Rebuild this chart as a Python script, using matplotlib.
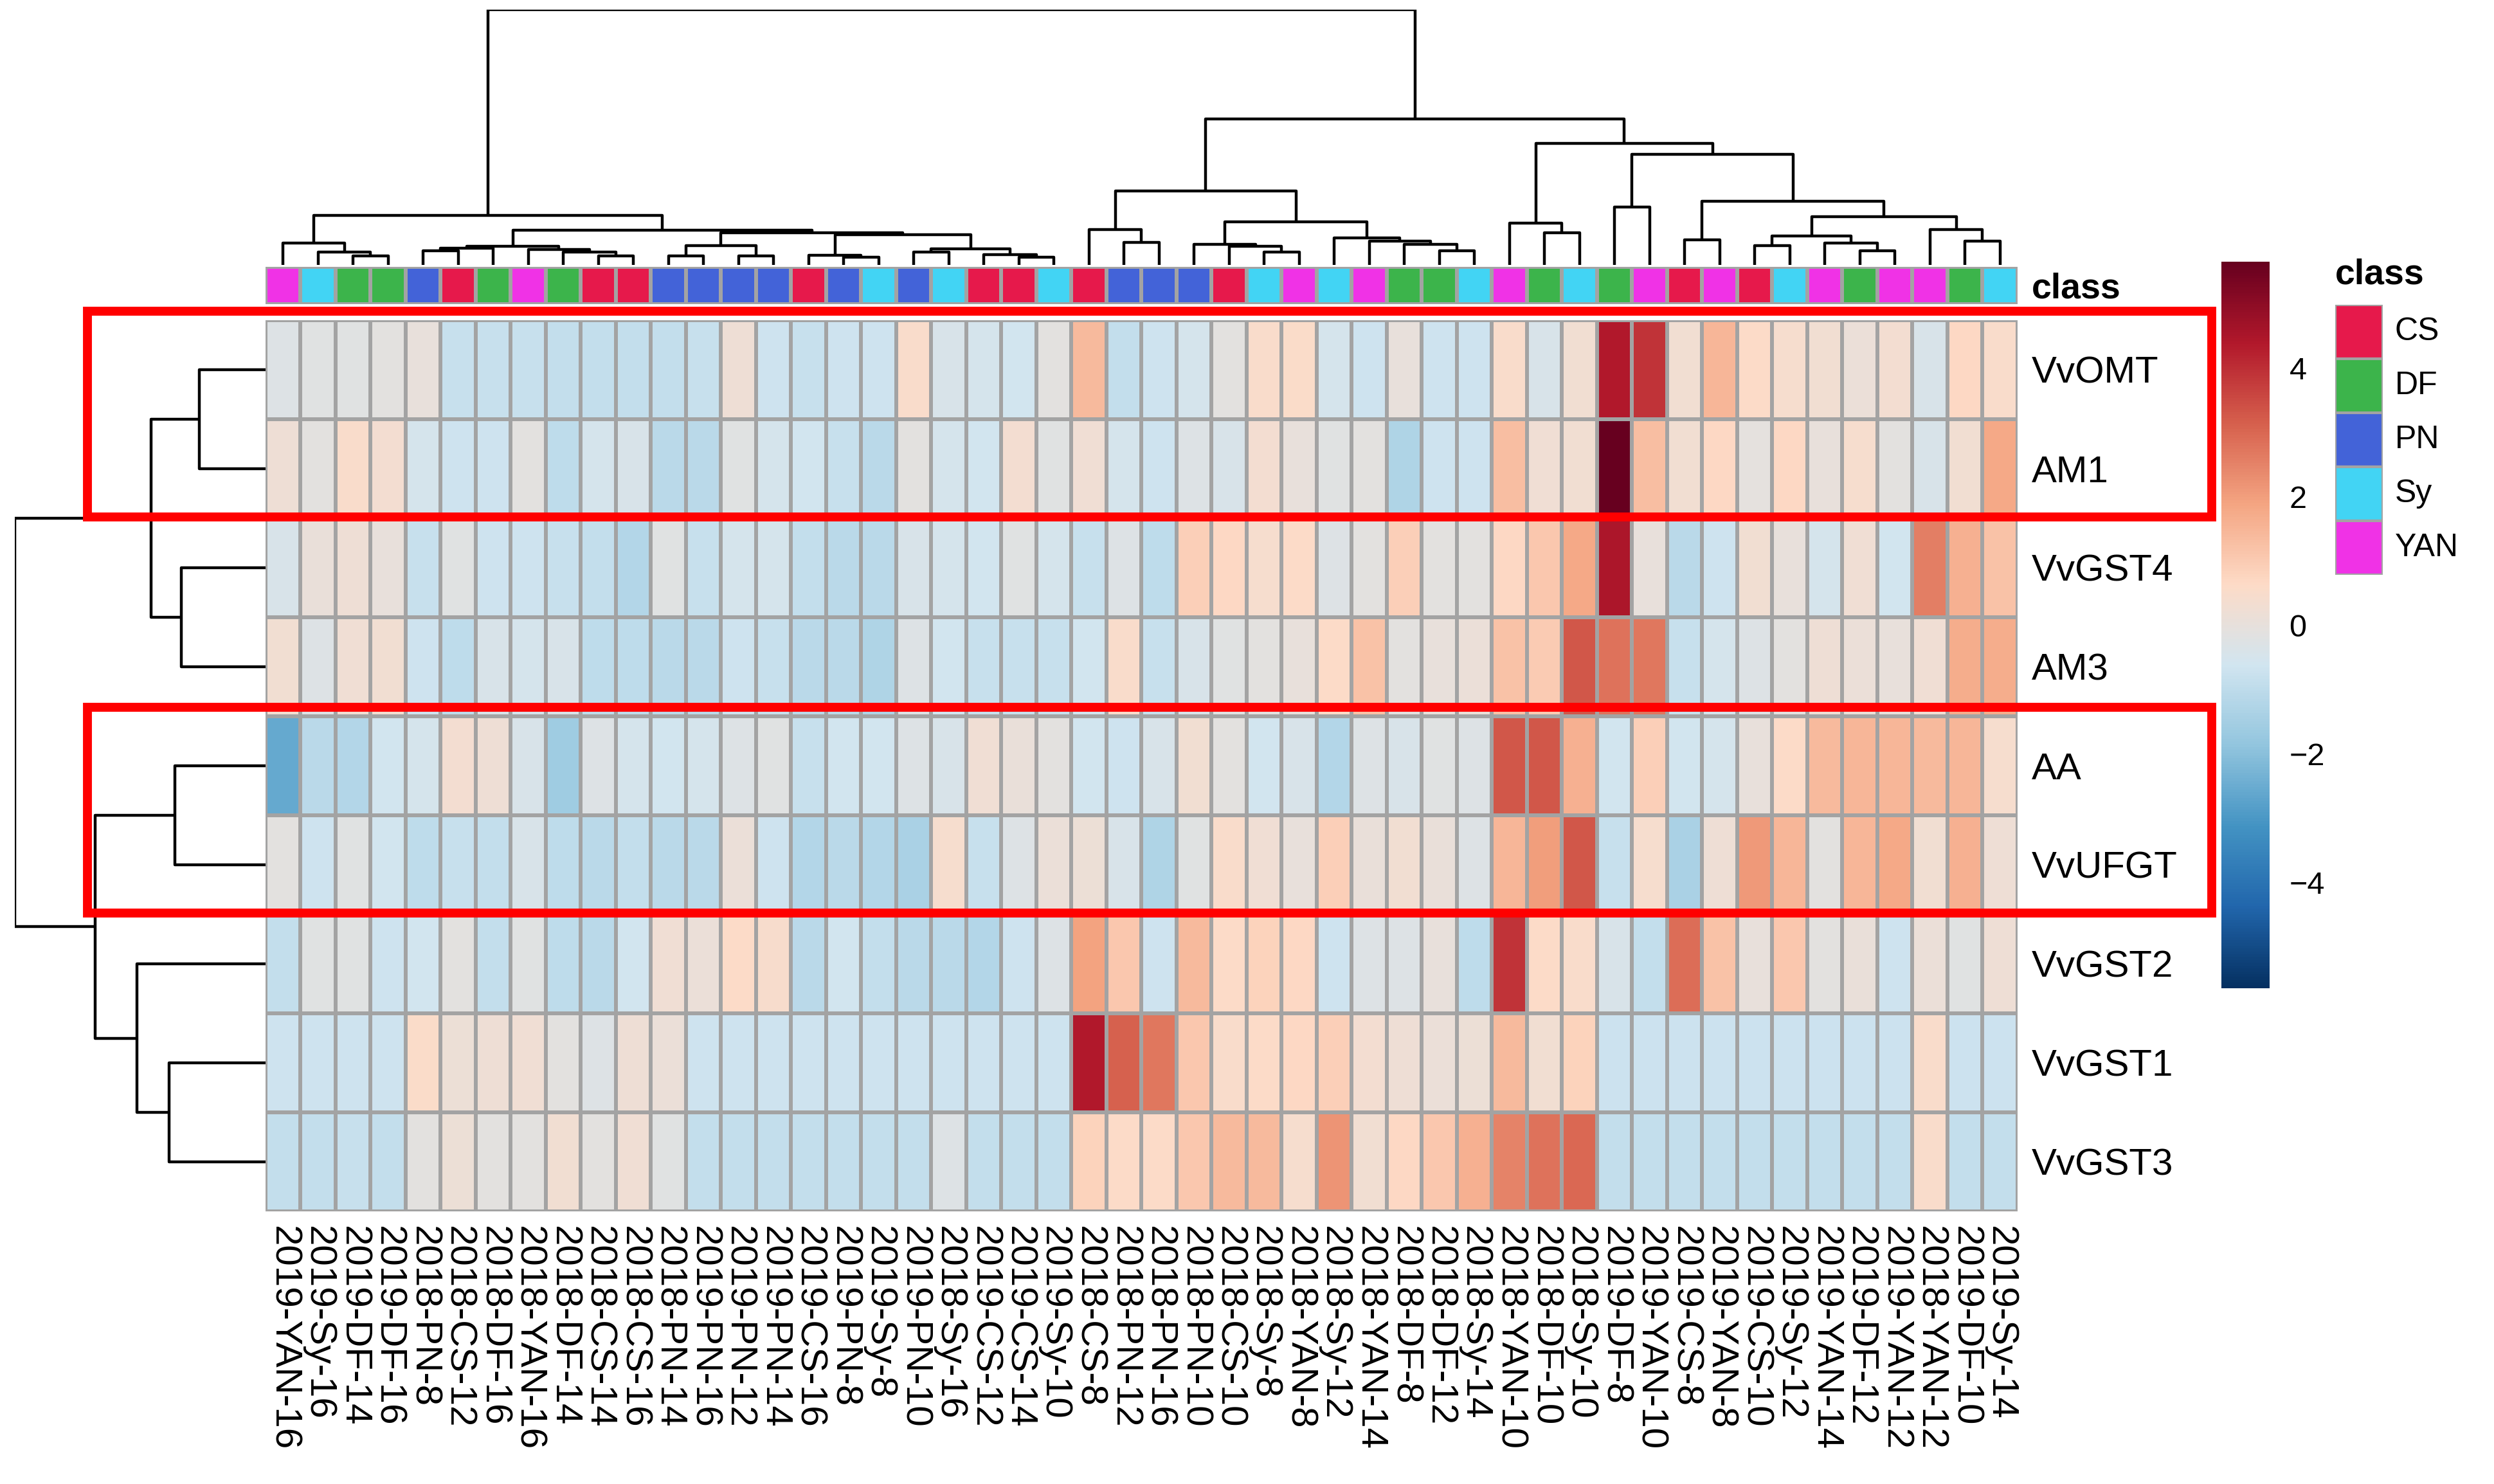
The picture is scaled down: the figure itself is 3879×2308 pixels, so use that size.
import numpy as np
import matplotlib
matplotlib.use('Agg')
import matplotlib.pyplot as plt
from matplotlib.colors import LinearSegmentedColormap, ListedColormap, Normalize
from matplotlib.patches import Rectangle

plt.rcParams['font.family'] = ['Liberation Sans', 'DejaVu Sans']

# ── Data ─────────────────────────────────────────────────────────────────────
samples = ['2019-YAN-16', '2019-Sy-16', '2019-DF-14', '2019-DF-16', '2018-PN-8',
           '2018-CS-12', '2018-DF-16', '2018-YAN-16', '2018-DF-14', '2018-CS-14',
           '2018-CS-16', '2018-PN-14', '2019-PN-16', '2019-PN-12', '2019-PN-14',
           '2019-CS-16', '2019-PN-8', '2019-Sy-8', '2019-PN-10', '2018-Sy-16',
           '2019-CS-12', '2019-CS-14', '2019-Sy-10', '2018-CS-8', '2018-PN-12',
           '2018-PN-16', '2018-PN-10', '2018-CS-10', '2018-Sy-8', '2018-YAN-8',
           '2018-Sy-12', '2018-YAN-14', '2018-DF-8', '2018-DF-12', '2018-Sy-14',
           '2018-YAN-10', '2018-DF-10', '2018-Sy-10', '2019-DF-8', '2019-YAN-10',
           '2019-CS-8', '2019-YAN-8', '2019-CS-10', '2019-Sy-12', '2019-YAN-14',
           '2019-DF-12', '2019-YAN-12', '2018-YAN-12', '2019-DF-10', '2019-Sy-14']
genes = ['VvOMT', 'AM1', 'VvGST4', 'AM3', 'AA', 'VvUFGT', 'VvGST2', 'VvGST1', 'VvGST3']

class_names = ['CS', 'DF', 'PN', 'Sy', 'YAN']
class_colors = ['#E6194B', '#3CB44B', '#4363D8', '#42D4F4', '#F032E6']

# scaled values, one list per gene, in displayed column order
VvOMT = [-0.3, -0.2, -0.2, -0.1, 0.0, -0.8, -0.8, -0.8, -0.9, -0.9,
         -0.9, -0.9, -0.8, 0.2, -0.7, -0.8, -0.7, -0.7, 0.5, -0.4,
         -0.5, -0.6, -0.1, 1.4, -0.9, -0.7, -0.5, -0.1, 0.5, 0.55,
         -0.5, -0.7, 0.0, -0.7, -0.7, 0.5, -0.4, 0.3, 4.4, 3.9,
         0.3, 1.5, 0.6, 0.4, 0.3, 0.1, 0.35, -0.4, 0.7, 0.5]
AM1 = [0.2, -0.1, 0.5, 0.35, -0.5, -0.7, -0.7, -0.1, -1.0, -0.5,
       -0.4, -1.1, -1.1, -0.2, -0.5, -0.6, -0.8, -1.1, -0.1, -0.5,
       -0.6, 0.35, -0.2, 0.25, -0.5, -0.7, -0.3, -0.4, 0.35, 0.0,
       -0.2, -0.1, -1.3, -0.7, -0.7, 1.3, 0.25, 0.3, 5.65, 1.3,
       0.3, 0.7, -0.05, 0.7, 0.0, 0.4, -0.1, -0.4, 0.3, 1.8]
VvGST4 = [-0.4, 0.05, 0.2, 0.0, -0.8, -0.2, -0.7, -0.7, -0.8, -0.9,
          -1.2, -0.2, -0.8, -0.5, -0.5, -0.9, -1.1, -1.1, -0.4, -0.5,
          -0.6, -0.2, -0.5, -0.8, -0.3, -1.0, 0.9, 0.7, 0.4, 0.6,
          -0.3, -0.1, 0.9, -0.1, -0.1, 0.7, 1.1, 1.8, 4.5, 0.0,
          -1.1, -0.7, 0.3, 0.0, -0.5, 0.25, -0.6, 2.6, 1.6, 1.2]
AM3 = [0.3, -0.3, 0.25, 0.3, -0.7, -1.0, -0.4, -0.5, -0.4, -1.0,
       -1.0, -1.1, -1.1, -0.7, -0.8, -1.1, -1.1, -1.3, -0.3, -0.6,
       -0.8, -0.8, -0.8, -0.6, 0.5, -0.8, -0.4, -0.2, -0.1, 0.0,
       0.6, 1.2, -0.1, 0.0, 0.1, 1.2, 1.0, 3.3, 2.8, 2.7,
       -0.8, -0.5, -0.3, -0.1, 0.2, 0.1, 0.0, 0.25, 1.7, 1.7]
AA = [-2.6, -1.1, -1.2, -0.6, -0.5, 0.35, 0.2, -0.4, -1.6, -0.3,
      -0.5, -0.6, -0.5, -0.3, -0.2, -0.8, -0.6, -0.6, -0.3, -0.4,
      0.25, 0.05, -0.1, -0.6, -0.7, -0.4, 0.3, -0.1, -0.6, -0.4,
      -1.2, -0.3, -0.4, -0.2, -0.3, 3.3, 3.3, 1.6, -0.6, 0.9,
      -0.6, -0.5, 0.0, 0.6, 1.4, 1.5, 1.5, 1.4, 1.5, 0.4]
VvUFGT = [-0.1, -0.7, -0.2, -0.6, -1.0, -0.8, -0.9, -0.4, -1.0, -1.1,
          -0.9, -1.1, -1.1, 0.1, -0.7, -1.2, -1.1, -1.2, -1.4, 0.4,
          -0.8, -0.3, 0.1, 0.15, -0.4, -1.3, -0.2, 0.5, 0.25, 0.0,
          0.9, 0.05, 0.3, 0.05, -0.3, 1.5, 2.0, 3.3, -0.8, 0.4,
          -1.4, 0.2, 2.1, 1.5, -0.1, 1.5, 1.8, 0.3, 1.6, 0.2]
VvGST2 = [-0.9, -0.2, -0.2, -0.7, -0.6, -0.1, -0.9, -0.2, -1.0, -1.1,
          -0.6, 0.25, 0.1, 0.6, 0.45, -1.1, -0.6, -0.9, -1.1, -1.1,
          -1.2, -0.7, -0.3, 1.9, 1.1, -0.7, 1.4, 0.6, 0.8, 0.7,
          -0.7, -0.3, -0.3, 0.0, -1.0, 3.9, 0.6, 0.5, -0.4, -0.9,
          2.9, 1.2, 0.0, 1.1, -0.1, 0.05, -0.7, 0.1, -0.2, 0.2]
VvGST1 = [-0.7, -0.7, -0.7, -0.7, 0.55, 0.15, 0.2, 0.25, -0.1, -0.3,
          0.2, 0.1, -0.7, -0.7, -0.7, -0.7, -0.7, -0.7, -0.7, -0.7,
          -0.7, -0.7, -0.7, 4.4, 3.1, 2.7, 1.1, 0.5, 0.6, 0.7,
          0.9, 0.35, 0.2, 0.1, 0.15, 1.4, 0.3, 0.8, -0.75, -0.75,
          -0.75, -0.75, -0.75, -0.75, -0.75, -0.75, -0.75, 0.5, -0.75, -0.75]
VvGST3 = [-0.9, -0.9, -0.8, -0.9, -0.1, 0.15, -0.1, -0.1, 0.3, -0.1,
          0.25, -0.2, -0.9, -0.9, -0.9, -0.9, -0.9, -0.9, -0.9, -0.3,
          -0.9, -0.9, -0.9, 0.8, 0.6, 0.6, 1.1, 1.4, 1.4, 0.4,
          2.2, 0.3, 0.7, 1.1, 1.6, 2.5, 2.8, 3.0, -0.9, -0.9,
          -0.9, -0.9, -0.9, -0.9, -0.9, -0.9, -0.9, 0.5, -0.9, -0.9]

# dendrograms: [left, right, merge height]; leaves are 1-based positions
col_tree = [
    [[1, [2, [3, 4, 14], 20], 34],
     [[[[5, 6, 22], 7, 26], [8, [9, [10, 11, 14], 20], 24], 29],
      [[[12, 13, 14], [14, 15, 14], 30],
       [[16, [17, 18, 12], 15], [[19, 20, 20], [21, [22, 23, 12], 16], 25], 47], 50], 54], 77],
    [[[24, [25, 26, 35], 55],
      [[27, [28, [29, 30, 20], 29], 32], [31, [32, [33, [34, 35, 22], 32], 37], 42], 67], 115],
     [[36, [37, 38, 50], 65],
      [[39, 40, 90],
       [[41, 42, 39],
        [[[43, 44, 30], [45, [46, 47, 22], 34], 45], [48, [49, 50, 37], 55], 75], 99], 172], 189], 227],
    397]
row_tree = [[[1, 2, 103], [3, 4, 131], 178],
            [[5, 6, 141], [7, [8, 9, 150], 200], 265], 390]

VMAX = 5.65
highlight_rows = [(0, 1), (4, 5)]

# ── Layout helpers (pixel boxes on a 3880 x 2308 canvas) ────────────────────
W, H = 3880, 2308
def rect(x0, y0, x1, y1):
    return [x0 / W, 1 - y1 / H, (x1 - x0) / W, (y1 - y0) / H]

HX0, HX1, HY0, HY1 = 413, 3138, 498, 1884
GRID = '#A3A3A3'
data = np.array([VvOMT, AM1, VvGST4, AM3, AA, VvUFGT, VvGST2, VvGST1, VvGST3])
n_rows, n_cols = data.shape

rdbu = ['#053061', '#2166AC', '#4393C3', '#92C5DE', '#D1E5F0',
        '#FDDBC7', '#F4A582', '#D6604D', '#B2182B', '#67001F']
cmap = LinearSegmentedColormap.from_list('rdbu10', rdbu, N=256)
norm = Normalize(-VMAX, VMAX)

fig = plt.figure(figsize=(W / 100, H / 100), dpi=100)

# heatmap
ax = fig.add_axes(rect(HX0, HY0, HX1, HY1))
mesh = ax.pcolormesh(data, cmap=cmap, norm=norm, edgecolors=GRID, linewidth=3.0)
ax.set_xlim(0, n_cols)
ax.set_ylim(n_rows, 0)
ax.set_xticks(np.arange(n_cols) + 0.5)
ax.set_xticklabels(samples, rotation=270, fontsize=42)
ax.set_yticks(np.arange(n_rows) + 0.5)
ax.set_yticklabels(genes, fontsize=42)
ax.yaxis.tick_right()
ax.tick_params(length=0, pad=16)
for s in ax.spines.values():
    s.set_visible(False)

# class annotation row
classes = [s.split('-')[1] for s in samples]
cls_idx = np.array([[class_names.index(c) for c in classes]])
axa = fig.add_axes(rect(HX0, 415, HX1, 473))
axa.pcolormesh(cls_idx, cmap=ListedColormap(class_colors), vmin=-0.5, vmax=4.5,
               edgecolors=GRID, linewidth=3.0)
axa.set_xlim(0, n_cols)
axa.set_ylim(1, 0)
axa.set_xticks([])
axa.set_yticks([0.5])
axa.set_yticklabels(['class'], fontsize=40, fontweight='bold')
axa.yaxis.tick_right()
axa.tick_params(length=0, pad=16)
for s in axa.spines.values():
    s.set_visible(False)

# dendrograms
def draw_tree(axd, node, top):
    if isinstance(node, int):
        return node - 0.5, 0.0
    a, b, h = node
    pa, ha = draw_tree(axd, a, top)
    pb, hb = draw_tree(axd, b, top)
    p, q = [pa, pa, pb, pb], [ha, h, h, hb]
    if top:
        axd.plot(p, q, color='black', lw=3.2, solid_capstyle='butt')
    else:
        axd.plot(q, p, color='black', lw=3.2, solid_capstyle='butt')
    return (pa + pb) / 2, h

axt = fig.add_axes(rect(HX0, 15, HX1, 412))
draw_tree(axt, col_tree, True)
axt.set_xlim(0, n_cols)
axt.set_ylim(0, col_tree[2])
axt.axis('off')

axl = fig.add_axes(rect(23, HY0, HX0, HY1))
draw_tree(axl, row_tree, False)
axl.set_ylim(n_rows, 0)
axl.set_xlim(row_tree[2], 0)
axl.axis('off')

# colorbar
cax = fig.add_axes(rect(3455, 407, 3530, 1537))
cb = fig.colorbar(mesh, cax=cax, ticks=[-4, -2, 0, 2, 4])
cb.outline.set_visible(False)
cax.tick_params(length=0, labelsize=35, pad=22)

# class legend
axg = fig.add_axes(rect(3632, 474, 3706, 894))
for i, (name, col) in enumerate(zip(class_names, class_colors)):
    axg.add_patch(Rectangle((0, i), 1, 1, facecolor=col, edgecolor=GRID, lw=3.0))
    axg.text(1.25, i + 0.5, name, fontsize=36, va='center', ha='left')
axg.set_xlim(0, 1)
axg.set_ylim(len(class_names), 0)
axg.axis('off')
fig.text(3632 / W, 1 - 428 / H, 'class', fontsize=40, fontweight='bold',
         ha='left', va='center')

# red highlight boxes
axo = fig.add_axes([0, 0, 1, 1], facecolor='none')
axo.set_xlim(0, W)
axo.set_ylim(H, 0)
axo.axis('off')
row_h = (HY1 - HY0) / n_rows
for r0, r1 in highlight_rows:
    y0 = HY0 + r0 * row_h - 14
    y1 = HY0 + (r1 + 1) * row_h - 2
    axo.add_patch(Rectangle((136, y0), 3440 - 136, y1 - y0, fill=False,
                            edgecolor='#FF0000', lw=10, zorder=10))

fig.savefig('out.png', dpi=100, facecolor='white')
